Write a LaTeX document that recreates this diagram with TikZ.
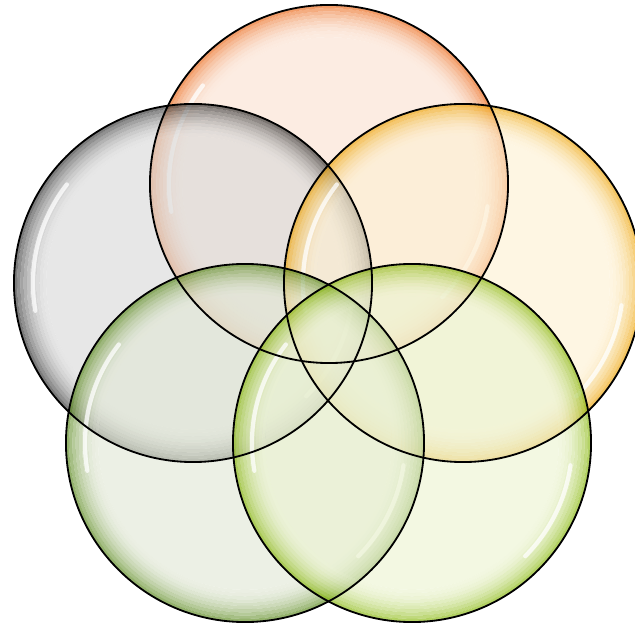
\documentclass[tikz,border=0pt]{standalone}

\begin{document}
\begin{tikzpicture}[x=0.025cm, y=0.025cm,
    outline/.style={draw=black, line width=1.3pt},
    hilite/.style={draw=white, line width=3pt, line cap=round, opacity=0.75}]
    % Define bubble radius (cm)
    \def\rad{4.475}
    \def\hrad{4.0cm}

    \definecolor{orangeIn}{HTML}{FAE1D0}
    \definecolor{orangeRim}{HTML}{EC6A1C}
    \definecolor{greyIn}{HTML}{D9D9D9}
    \definecolor{greyRim}{HTML}{383838}
    \definecolor{yellowIn}{HTML}{FDF0D2}
    \definecolor{yellowRim}{HTML}{EFA812}
    \definecolor{greenIn}{HTML}{E1E7D5}
    \definecolor{greenRim}{HTML}{5E8C22}
    \definecolor{limeIn}{HTML}{EBF3D0}
    \definecolor{limeRim}{HTML}{8CBA14}

    \useasboundingbox (0,0) rectangle (635,624);
    \clip (0,0) rectangle (635,624);

    % Define the centres of the bubbles
    \coordinate (bOrange) at (329,440);
    \coordinate (bGrey) at (193,341);
    \coordinate (bYellow) at (463,341);
    \coordinate (bGreen) at (245,181);
    \coordinate (bLime) at (412,181);

    % Draw the bubbles
    \foreach \name/\cin/\crim in {bOrange/orangeIn/orangeRim, bGrey/greyIn/greyRim,
        bYellow/yellowIn/yellowRim, bGreen/greenIn/greenRim, bLime/limeIn/limeRim} {
        % Pale body of the bubble
        \fill[\cin, fill opacity=0.62] (\name) circle[radius=0.82*\rad cm];
        % Coloured rim, ring by ring
        \foreach \k [evaluate=\k as \rin using {\rad*(0.82+0.018*(\k-1))},
                     evaluate=\k as \rout using {\rad*(0.82+0.018*\k)},
                     evaluate=\k as \pct using {int(100*(\k/10)^2)}] in {1,...,10} {
            \colorlet{ringC}{\crim!\pct!\cin}
            \fill[ringC, fill opacity=0.66, even odd rule]
                (\name) circle[radius=\rin cm] circle[radius=\rout cm];
        }
        % Highlights on the glass
        \draw[hilite] ([shift={(142:\hrad)}]\name) arc[start angle=142, end angle=190, radius=\hrad];
        \draw[hilite] ([shift={(-45:\hrad)}]\name) arc[start angle=-45, end angle=-8, radius=\hrad];
    }

    % Draw the outlines on top
    \foreach \name in {bOrange, bGrey, bYellow, bGreen, bLime}
        \draw[outline] (\name) circle[radius=\rad cm];

\end{tikzpicture}
\end{document}
